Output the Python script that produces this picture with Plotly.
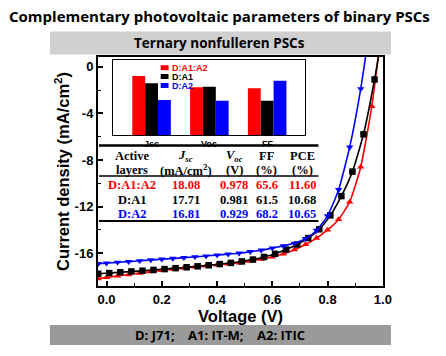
import plotly.graph_objects as go

# ---------------- data ----------------
voltage = [-0.03, 0.00, 0.04, 0.08, 0.12, 0.16, 0.20, 0.24, 0.28, 0.32, 0.36, 0.40, 0.44,
           0.48, 0.52, 0.56, 0.60, 0.64, 0.68, 0.72, 0.76, 0.80, 0.84, 0.88, 0.92, 0.96, 1.00]
voltage_a1 = [-0.03, 0.01, 0.05, 0.09, 0.13, 0.17, 0.21, 0.25, 0.29, 0.33, 0.37, 0.41, 0.45,
              0.49, 0.53, 0.57, 0.61, 0.65, 0.69, 0.73, 0.77, 0.81, 0.85, 0.89, 0.93, 0.97, 1.01]
j_a1a2 = [-18.18, -18.08, -17.95, -17.83, -17.70, -17.58, -17.47, -17.37, -17.27, -17.17, -17.08,
          -16.99, -16.91, -16.82, -16.67, -16.50, -16.32, -16.05, -15.70, -15.25, -14.70, -14.00,
          -13.10, -11.60, -8.60, -3.40, 4.00]
j_a1 = [-17.76, -17.70, -17.63, -17.56, -17.50, -17.43, -17.36, -17.28, -17.20, -17.12, -17.03,
        -16.93, -16.83, -16.70, -16.54, -16.32, -16.05, -15.68, -15.25, -14.70, -13.95, -12.75,
        -11.10, -9.00, -5.80, -1.10, 4.50]
j_a2 = [-16.90, -16.85, -16.78, -16.72, -16.65, -16.58, -16.51, -16.45, -16.38, -16.31, -16.24,
        -16.16, -16.08, -16.00, -15.87, -15.74, -15.56, -15.37, -15.15, -14.75, -14.05, -12.80,
        -10.55, -6.90, -1.90, 4.50, 11.00]

series_names = ["D:A1:A2", "D:A1", "D:A2"]
series_colors = ["#ff0000", "#000000", "#0000ff"]
series_symbols = ["triangle-up", "square", "triangle-down"]

inset_params = ["Jsc", "Voc", "FF"]
inset_a1a2 = [59.0, 47.7, 46.7]
inset_a1 = [51.7, 48.3, 34.3]
inset_a2 = [35.0, 34.3, 54.3]

table_header1 = ["Active", "<i>J<sub>sc</sub></i>", "<i>V<sub>oc</sub></i>", "FF", "PCE"]
table_header2 = ["layers", "(mA/cm<sup>2</sup>)", "(V)", "(%)", "(%)"]
table_rows = [
    ["D:A1:A2", "18.08", "0.978", "65.6", "11.60"],
    ["D:A1", "17.71", "0.981", "61.5", "10.68"],
    ["D:A2", "16.81", "0.929", "68.2", "10.65"],
]

x_ticks = [0.0, 0.2, 0.4, 0.6, 0.8, 1.0]
x_ticklabels = ["0.0", "0.2", "0.4", "0.6", "0.8", "1.0"]
y_ticks = [-16, -12, -8, -4, 0]
y_ticklabels = ["-16", "-12", "-8", "-4", "0"]

W, H = 446, 356
def px(x):
    return x / W
def py(y):
    return 1 - y / H

fig = go.Figure()

# main J-V curves
for name, vv, jv, col, sym in zip(series_names, [voltage, voltage_a1, voltage],
                                  [j_a1a2, j_a1, j_a2], series_colors, series_symbols):
    fig.add_trace(go.Scatter(
        x=vv, y=jv, mode="lines+markers", name=name,
        line=dict(color=col, width=1.6, shape="spline", smoothing=0.5),
        marker=dict(symbol=sym, size=6.5, color=col),
        xaxis="x", yaxis="y", showlegend=False,
    ))

# inset bars
for name, vals, col in zip(series_names, [inset_a1a2, inset_a1, inset_a2], series_colors):
    fig.add_trace(go.Bar(
        x=inset_params, y=vals, name=name, marker=dict(color=col, line=dict(width=0)),
        xaxis="x2", yaxis="y2", showlegend=False,
    ))

font_sans = "Liberation Sans, Arial, sans-serif"
font_serif = "Liberation Serif, Times New Roman, serif"

fig.update_layout(
    width=W, height=H, autosize=False,
    margin=dict(l=0, r=0, t=0, b=0),
    paper_bgcolor="white", plot_bgcolor="white",
    barmode="group", bargap=0.333, bargroupgap=0,
    xaxis=dict(
        domain=[px(100), px(391)], range=[-0.0309, 1.001], anchor="y",
        showline=True, linecolor="black", linewidth=2, mirror=True,
        showgrid=False, zeroline=False,
        tickmode="array", tickvals=x_ticks, ticktext=x_ticklabels,
        ticks="inside", ticklen=5, tickwidth=1.5, tickcolor="black",
        minor=dict(ticks="inside", ticklen=3, tickwidth=1.2, dtick=0.1, tick0=0, tickcolor="black"),
        tickfont=dict(family=font_sans, size=13, color="black", weight="bold"),
        title=dict(text="Voltage (V)", font=dict(family=font_sans, size=16.5, color="black", weight="bold"),
                   standoff=4),
    ),
    yaxis=dict(
        domain=[py(286), py(57)], range=[-18.81, 0.83], anchor="x",
        showline=True, linecolor="black", linewidth=2, mirror=True,
        showgrid=False, zeroline=False,
        tickmode="array", tickvals=y_ticks, ticktext=y_ticklabels,
        ticks="inside", ticklen=5, tickwidth=1.5, tickcolor="black",
        minor=dict(ticks="inside", ticklen=3, tickwidth=1.2, dtick=2, tick0=0, tickcolor="black"),
        tickfont=dict(family=font_sans, size=13, color="black", weight="bold"),
        title=dict(text="Current density (mA/cm<sup>2</sup>)",
                   font=dict(family=font_sans, size=16.5, color="black", weight="bold"), standoff=1),
    ),
    xaxis2=dict(
        domain=[px(115), px(311)], range=[-0.673, 2.65], anchor="y2",
        showline=True, linecolor="black", linewidth=1, mirror=True,
        showgrid=False, zeroline=False, showticklabels=False, ticks="",
    ),
    yaxis2=dict(
        domain=[py(135), py(60)], range=[0, 75], anchor="x2",
        showline=True, linecolor="black", linewidth=1, mirror=True,
        showgrid=False, zeroline=False, showticklabels=False, ticks="",
    ),
)

shapes = []
annotations = []

# title and banners
annotations.append(dict(
    x=px(224), y=py(16), xref="paper", yref="paper", showarrow=False,
    text="Complementary photovoltaic parameters of binary PSCs",
    font=dict(family="Open Sans, sans-serif", size=15, color="black", weight="bold"),
    xanchor="center", yanchor="middle"))
shapes.append(dict(type="rect", xref="paper", yref="paper", x0=px(51), x1=px(399), y0=py(54.5), y1=py(31.5),
                   fillcolor="#d0d0d0", line=dict(width=0), layer="below"))
annotations.append(dict(
    x=px(224), y=py(43), xref="paper", yref="paper", showarrow=False,
    text="Ternary nonfulleren PSCs",
    font=dict(family="Open Sans, sans-serif", size=13.5, color="black", weight="bold"),
    xanchor="center", yanchor="middle"))
shapes.append(dict(type="rect", xref="paper", yref="paper", x0=px(51), x1=px(399), y0=py(345), y1=py(325),
                   fillcolor="#9a9a9a", line=dict(width=0), layer="below"))
annotations.append(dict(
    x=px(225), y=py(335), xref="paper", yref="paper", showarrow=False,
    text="D: J71;&nbsp;&nbsp;&nbsp;&nbsp;A1: IT-M;&nbsp;&nbsp;&nbsp;&nbsp;A2: ITIC",
    font=dict(family="Open Sans, sans-serif", size=13, color="black", weight="bold"),
    xanchor="center", yanchor="middle"))

# inset category labels
for cat in inset_params:
    annotations.append(dict(x=cat, y=0, xref="x2", yref="y2", showarrow=False, text=cat,
                            yanchor="top", yshift=-2,
                            font=dict(family=font_sans, size=9, color="black", weight="bold")))

# inset legend
leg_y = [67.7, 76.5, 85.5]
for name, col, yy in zip(series_names, series_colors, leg_y):
    shapes.append(dict(type="rect", xref="paper", yref="paper", x0=px(164), x1=px(172),
                       y0=py(yy + 2.5), y1=py(yy - 2.5), fillcolor=col, line=dict(width=0)))
    annotations.append(dict(x=px(173.5), y=py(yy), xref="paper", yref="paper", showarrow=False,
                            text=name, xanchor="left", yanchor="middle",
                            font=dict(family=font_sans, size=9, color=col, weight="bold")))

# table
col_x = [134.5, 189.5, 239, 272, 308.5]
for cx, h1, h2 in zip(col_x, table_header1, table_header2):
    annotations.append(dict(x=px(cx), y=py(156), xref="paper", yref="paper", showarrow=False, text=h1,
                            xanchor="center", yanchor="middle",
                            font=dict(family=font_serif, size=12.5, color="black", weight="bold")))
    annotations.append(dict(x=px(cx), y=py(169.5), xref="paper", yref="paper", showarrow=False, text=h2,
                            xanchor="center", yanchor="middle",
                            font=dict(family=font_serif, size=12.5, color="black", weight="bold")))
row_y = [184.5, 200, 214.5]
for row, col, ry in zip(table_rows, series_colors, row_y):
    for cx, txt in zip(col_x, row):
        annotations.append(dict(x=px(cx), y=py(ry), xref="paper", yref="paper", showarrow=False, text=txt,
                                xanchor="center", yanchor="middle",
                                font=dict(family=font_serif, size=12.5, color=col, weight="bold")))
for yy, lw in [(145.5, 2.5), (176, 1.5), (221, 2)]:
    shapes.append(dict(type="line", xref="paper", yref="paper", x0=px(101), x1=px(325),
                       y0=py(yy), y1=py(yy), line=dict(color="black", width=lw)))

fig.update_layout(shapes=shapes, annotations=annotations)
fig.write_html("out.html", config={"displayModeBar": False},
               post_script="document.body.style.margin='0px';")
